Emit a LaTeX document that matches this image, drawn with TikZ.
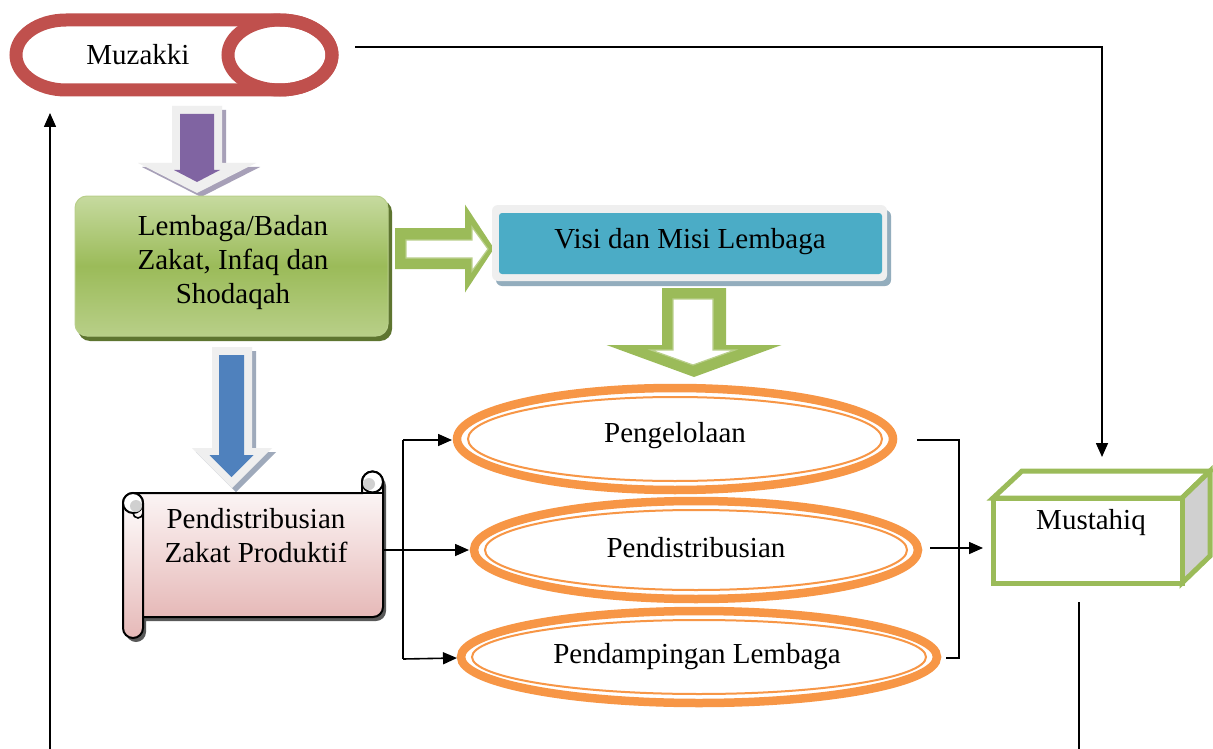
\documentclass[tikz,border=0pt]{standalone}
\usepackage{fontspec}
\setmainfont{Liberation Serif}
\usetikzlibrary{arrows.meta}
\definecolor{muzred}{HTML}{C0504D}
\definecolor{purp}{HTML}{8064A2}
\definecolor{blu}{HTML}{4F81BD}
\definecolor{grn}{HTML}{9BBB59}
\definecolor{grnlt}{HTML}{C6DA9F}
\definecolor{grnbot}{HTML}{B8CF88}
\definecolor{grndk}{HTML}{5E7530}
\definecolor{aqua}{HTML}{4BACC6}
\definecolor{org}{HTML}{F79646}
\definecolor{pinkb}{HTML}{E6B9B8}
\definecolor{halo}{HTML}{EFEFEF}
\definecolor{purshadow}{HTML}{A7A0B8}
\definecolor{blushadow}{HTML}{9FAABB}
\definecolor{visishadow}{HTML}{93ADBD}
\definecolor{cubegray}{HTML}{D0D0D0}
\newcommand\dnarrow[7]{% opts, cx, w, top, headbase, h, tip
  \path[#1] ({#2-#3},-#4) -- ({#2+#3},-#4) -- ({#2+#3},-#5) -- ({#2+#6},-#5) -- (#2,-#7) -- ({#2-#6},-#5) -- ({#2-#3},-#5) -- cycle;}
\newcommand\rtarrow[7]{% opts, cy, w, left, headbase, h, tip
  \path[#1] (#4,{-(#2-#3)}) -- (#5,{-(#2-#3)}) -- (#5,{-(#2-#6)}) -- (#7,-#2) -- (#5,{-(#2+#6)}) -- (#5,{-(#2+#3)}) -- (#4,{-(#2+#3)}) -- cycle;}
\tikzset{
  txt/.style={font=\fontsize{29}{34}\selectfont, align=center, inner sep=0pt, text=black},
  line/.style={draw=black, line width=1.6pt},
  conn/.style={line, -{Triangle[length=14pt,width=12pt]}},
  ringout/.style={draw=org, line width=8.5pt},
  ringin/.style={draw=org, line width=2pt},
}
\begin{document}
\begin{tikzpicture}[x=1pt,y=1pt]
\useasboundingbox (0,0) rectangle (1213,-749);
\fill[white] (0,0) rectangle (1213,-749);

% ---------- Muzakki (horizontal can) ----------
\draw[muzred, line width=13pt, fill=white]
  (66,-20) -- (280,-20) arc[start angle=90, end angle=-90, x radius=52, y radius=35]
  -- (66,-90) arc[start angle=270, end angle=90, x radius=50, y radius=35] -- cycle;
\draw[muzred, line width=13pt] (280,-55) ellipse[x radius=52, y radius=35];
\node[txt] (muz) at (138,-55) {Muzakki};

% ---------- purple arrow ----------
\begin{scope}[shift={(4,-4)}]
\dnarrow{fill=purshadow}{197}{25}{106}{163}{59}{193}
\end{scope}
\dnarrow{fill=halo}{197}{25}{106}{163}{59}{193}
\dnarrow{fill=purp}{197}{17}{114}{170}{23}{182}

% ---------- Lembaga box ----------
\fill[grndk, rounded corners=12pt] (78,-200) rectangle (392,-341);
\shade[rounded corners=12pt, top color=grnlt, bottom color=grnbot, middle color=grn, draw=grn!70!white, line width=1pt]
  (75,-196) rectangle (388,-336);
\node[txt] (lem) at (233,-263) {Lembaga/Badan\\Zakat, Infaq dan\\Shodaqah};

% ---------- green right arrow ----------
\rtarrow{fill=grn}{248.5}{20.5}{395}{465}{44}{494}
\rtarrow{fill=white, draw=grn!70!white, line width=1.2pt}{249}{9}{406}{472}{22}{488}

% ---------- Visi box ----------
\fill[visishadow, rounded corners=6pt] (496,-210) rectangle (891,-286);
\fill[halo, rounded corners=6pt] (492,-205) rectangle (887,-281);
\fill[aqua, rounded corners=3pt] (499,-213) rectangle (882,-274);
\node[txt] (visi) at (690,-242) {Visi dan Misi Lembaga};

% ---------- green down arrow ----------
\dnarrow{fill=grn}{694}{32}{288}{345}{87.5}{377}
\dnarrow{fill=white, draw=grn!70!white, line width=1.2pt}{693}{20}{299}{350}{42}{365}

% ---------- blue arrow ----------
\begin{scope}[shift={(4,-4)}]
\dnarrow{fill=blushadow}{232}{20}{347}{448}{40}{488}
\end{scope}
\dnarrow{fill=halo}{232}{20}{347}{448}{40}{488}
\dnarrow{fill=blu}{231.5}{12.5}{355}{455}{22}{477}

% ---------- scroll ----------
\begin{scope}[shift={(3,-4)}]
\fill[black!65] (133,-493) -- (362,-493) -- (362,-482) arc[start angle=180, end angle=0, radius=10.5]
  -- (383,-607) arc[start angle=0, end angle=-90, radius=10] -- (143,-617) -- (143,-628)
  arc[start angle=0, end angle=-180, radius=10] -- (123,-503) arc[start angle=180, end angle=90, radius=10] -- cycle;
\end{scope}
\shade[top color=white, bottom color=pinkb, draw=black, line width=2pt]
  (133,-493) -- (362,-493) -- (362,-482) arc[start angle=180, end angle=0, radius=10.5]
  -- (383,-607) arc[start angle=0, end angle=-90, radius=10] -- (143,-617);
\shade[top color=white, bottom color=pinkb, draw=black, line width=2pt]
  (143,-503) -- (143,-628) arc[start angle=0, end angle=-180, radius=10] -- (123,-503)
  arc[start angle=180, end angle=0, radius=10];
% left curl
\draw[black, line width=2pt, fill=white] (133,-503) circle[radius=10];
\fill[cubegray] (136,-506) circle[radius=6];
\draw[black, line width=1.6pt] (143,-503) -- (143,-513) arc[start angle=0, end angle=-180, radius=5];
% right curl
\draw[black, line width=2pt, fill=white] (372.5,-482) circle[radius=10.5];
\fill[cubegray] (369,-484) circle[radius=6];
\draw[black, line width=1.6pt] (362,-493) -- (383,-493);
\draw[black, line width=1.6pt] (362,-482) -- (362,-493);
\node[txt] (pdz) at (256,-536) {Pendistribusian\\Zakat Produktif};

% ---------- ellipses ----------
\draw[ringout] (675,-439) ellipse[x radius=218, y radius=51];
\draw[ringin]  (675,-439) ellipse[x radius=207, y radius=42];
\node[txt] (e1) at (675,-436) {Pengelolaan};
\draw[ringout] (696,-550) ellipse[x radius=222, y radius=49];
\draw[ringin]  (696,-550) ellipse[x radius=211, y radius=40];
\node[txt] (e2) at (696,-548) {Pendistribusian};
\draw[ringout] (699,-657) ellipse[x radius=238, y radius=46];
\draw[ringin]  (699,-657) ellipse[x radius=227, y radius=37];
\node[txt] (e3) at (697,-657) {Pendampingan Lembaga};

% ---------- Mustahiq cube ----------
\begin{scope}[line width=5pt, draw=grn, line join=miter]
\filldraw[draw=grn, fill=white] (993,-498) -- (1022,-471) -- (1210,-471) -- (1182,-498) -- cycle;
\filldraw[draw=grn, fill=cubegray] (1182,-498) -- (1210,-471) -- (1210,-556) -- (1182,-583) -- cycle;
\filldraw[draw=grn, fill=white] (993,-498) rectangle (1182,-583);
\end{scope}
\node[txt] (mus) at (1091,-523) {Mustahiq};

% ---------- connectors ----------
\coordinate (muzR) at (355,-47);
\coordinate (musT) at (1102,-457);
\draw[conn] (muzR) -| (musT);
\coordinate (botL) at (50,-749);
\coordinate (muzB) at (50,-113);
\draw[conn] (botL) -- (muzB);
\coordinate (musB) at (1079,-602);
\coordinate (botR) at (1079,-749);
\draw[line] (musB) -- (botR);

\coordinate (scrR) at (384,-550);
\coordinate (e2L) at (469,-550);
\draw[conn] (scrR) -- (e2L);
\coordinate (spT) at (403,-440);
\coordinate (spB) at (403,-659);
\coordinate (e1L) at (452,-440);
\coordinate (e3L) at (457,-658);
\draw[line] (spT) -- (spB);
\draw[conn] (spT) -- (e1L);
\draw[conn] (spB) -- (e3L);

\coordinate (e1R) at (917,-440);
\coordinate (brT) at (959,-440);
\coordinate (brB) at (959,-658);
\coordinate (e3R) at (946,-658);
\draw[line] (e1R) -- (brT) -- (brB) -- (e3R);
\coordinate (e2R) at (930,-548);
\coordinate (musL) at (983,-548);
\draw[conn] (e2R) -- (musL);
\end{tikzpicture}
\end{document}
